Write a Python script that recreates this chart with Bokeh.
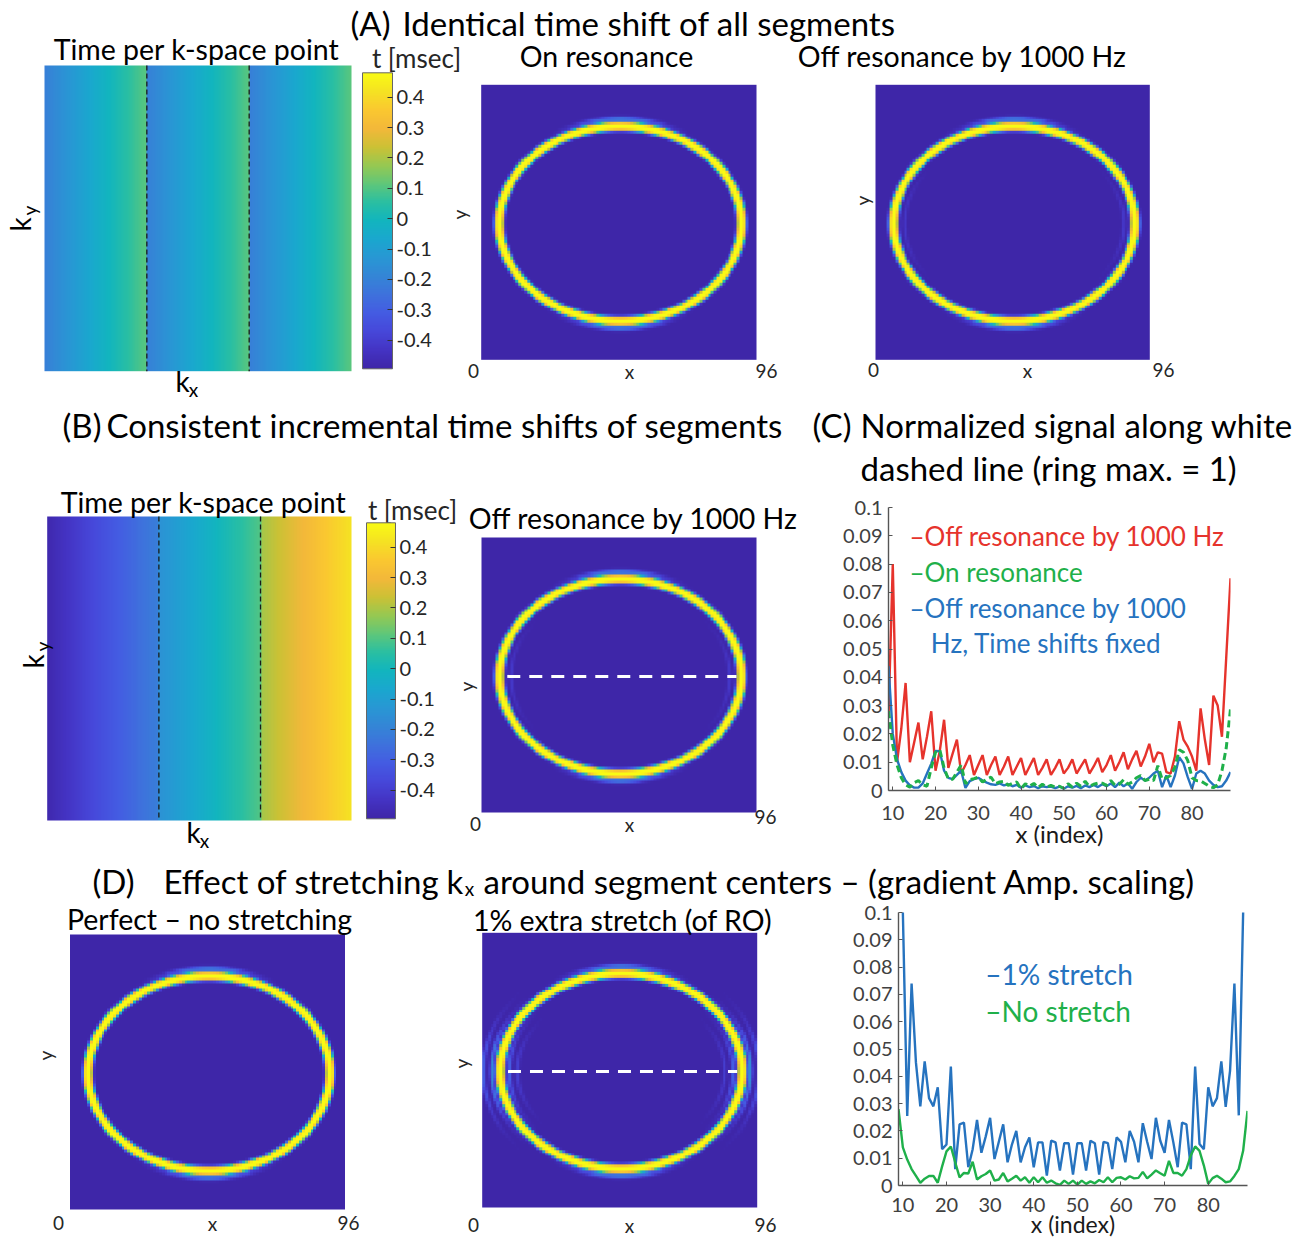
import numpy as np
from bokeh.plotting import figure
from bokeh.models import Range1d, LinearColorMapper, ColorBar, FixedTicker, Label
from bokeh.layouts import column, row
from bokeh.core.properties import value
from bokeh.embed import file_html
from bokeh.resources import INLINE

FONT = "Lato"
RED = "#e6332c"
GREEN = "#1fb04a"
BLUE = "#2673bf"
AXIS_GRAY = "#555555"
TICK_TEXT = "#404040"

# ---------------- line-profile data (panels C and D) ----------------
x_index = list(range(9, 90))

c_off_resonance = [
    0.026, 0.080, 0.010, 0.022, 0.038, 0.010, 0.017, 0.024, 0.011, 0.019,
    0.028, 0.007, 0.014, 0.025, 0.008, 0.013, 0.018, 0.006, 0.009, 0.0125,
    0.0055, 0.009, 0.0125, 0.0055, 0.009, 0.012, 0.0055, 0.0085, 0.012, 0.0055,
    0.0085, 0.0115, 0.0055, 0.0085, 0.0115, 0.0055, 0.008, 0.011, 0.0055, 0.008,
    0.011, 0.006, 0.008, 0.011, 0.006, 0.0085, 0.011, 0.006, 0.0085, 0.0115,
    0.0065, 0.009, 0.0125, 0.007, 0.010, 0.0135, 0.0075, 0.011, 0.014, 0.0085,
    0.012, 0.0165, 0.010, 0.0135, 0.013, 0.0065, 0.006, 0.012, 0.0245, 0.018,
    0.0155, 0.012, 0.007, 0.029, 0.018, 0.009, 0.0335, 0.030, 0.019, 0.047,
    0.075]

c_on_resonance = [
    0.028, 0.016, 0.009, 0.0045, 0.002, 0.0012, 0.0028, 0.0035, 0.002, 0.0015,
    0.008, 0.0135, 0.0144, 0.008, 0.004, 0.004, 0.0065, 0.009, 0.0024, 0.0038,
    0.0042, 0.0047, 0.003, 0.004, 0.0047, 0.0024, 0.003, 0.0033, 0.0018, 0.0025,
    0.003, 0.0006, 0.0024, 0.0015, 0.0025, 0.001, 0.0022, 0.0012, 0.0018, 0.0012,
    0.0015, 0.0008, 0.0024, 0.0012, 0.0026, 0.0015, 0.0033, 0.0014, 0.0022, 0.0026,
    0.0026, 0.0018, 0.0035, 0.0018, 0.0022, 0.0038, 0.0022, 0.003, 0.0045, 0.0053,
    0.0035, 0.004, 0.0035, 0.0088, 0.004, 0.0045, 0.0053, 0.0082, 0.0144, 0.0135,
    0.0106, 0.0045, 0.0035, 0.0034, 0.0025, 0.0015, 0.001, 0.002, 0.007, 0.015,
    0.0288]

c_time_shifts_fixed = [
    0.044, 0.020, 0.011, 0.0065, 0.0035, 0.0018, 0.001, 0.001, 0.0025, 0.006,
    0.0095, 0.014, 0.0139, 0.007, 0.0045, 0.004, 0.0055, 0.007, 0.0009, 0.0033,
    0.004, 0.0045, 0.0035, 0.0028, 0.0022, 0.002, 0.0025, 0.0018, 0.0022, 0.0015,
    0.002, 0.001, 0.0018, 0.0012, 0.0016, 0.0008, 0.0015, 0.0012, 0.0014, 0.0008,
    0.0014, 0.0006, 0.0015, 0.001, 0.0016, 0.0008, 0.0018, 0.0012, 0.002, 0.0012,
    0.0022, 0.0015, 0.0025, 0.0012, 0.0028, 0.0015, 0.0025, 0.0006, 0.003, 0.0045,
    0.0035, 0.0045, 0.006, 0.007, 0.0012, 0.0053, 0.0012, 0.0053, 0.0118, 0.0096,
    0.0047, 0.0006, 0.006, 0.007, 0.006, 0.0035, 0.002, 0.0012, 0.0015, 0.0035,
    0.0065]

d_stretch_1pct = [
    0.25, 0.100, 0.0255, 0.074, 0.045, 0.029, 0.0455, 0.032, 0.029, 0.036,
    0.0133, 0.015, 0.0436, 0.006, 0.0224, 0.023, 0.0067, 0.0133, 0.024, 0.012,
    0.018, 0.0248, 0.0097, 0.016, 0.0224, 0.0085, 0.015, 0.020, 0.0085, 0.014,
    0.0176, 0.0067, 0.0158, 0.0158, 0.0036, 0.0164, 0.0158, 0.0055, 0.0155, 0.0155,
    0.004, 0.0155, 0.0155, 0.0055, 0.0164, 0.0155, 0.004, 0.016, 0.0155, 0.006,
    0.0176, 0.016, 0.0085, 0.020, 0.016, 0.0085, 0.0228, 0.016, 0.0097, 0.0248,
    0.0164, 0.012, 0.024, 0.0158, 0.0067, 0.023, 0.0224, 0.006, 0.0436, 0.0152,
    0.0133, 0.036, 0.029, 0.032, 0.0455, 0.0288, 0.042, 0.074, 0.0257, 0.100,
    0.25]

d_no_stretch = [
    0.028, 0.014, 0.0095, 0.006, 0.0035, 0.001, 0.0025, 0.0035, 0.0035, 0.001,
    0.007, 0.0125, 0.0143, 0.0085, 0.003, 0.0046, 0.0044, 0.0087, 0.0022, 0.0034,
    0.0042, 0.0055, 0.0018, 0.0022, 0.0046, 0.0015, 0.0025, 0.0036, 0.0018, 0.003,
    0.001, 0.003, 0.0012, 0.003, 0.001, 0.0018, 0.0008, 0.0002, 0.0018, 0.0006,
    0.0018, 0.0003, 0.0018, 0.0006, 0.0015, 0.0008, 0.002, 0.0012, 0.003, 0.0012,
    0.0028, 0.003, 0.0022, 0.0034, 0.0026, 0.0028, 0.005, 0.0026, 0.004, 0.0055,
    0.0045, 0.0036, 0.009, 0.0046, 0.0046, 0.0036, 0.006, 0.011, 0.0143, 0.0127,
    0.0073, 0.0006, 0.0027, 0.0036, 0.0025, 0.0012, 0.0015, 0.0035, 0.006, 0.0127,
    0.0273]

c_legend_labels = ["\u2013Off resonance by 1000 Hz", "\u2013On resonance",
                   "\u2013Off resonance by 1000", "Hz, Time shifts fixed"]
d_legend_labels = ["\u20131% stretch", "\u2013No stretch"]

y_ticks = [0.0, 0.01, 0.02, 0.03, 0.04, 0.05, 0.06, 0.07, 0.08, 0.09, 0.1]
y_tick_labels = ["0", "0.01", "0.02", "0.03", "0.04", "0.05", "0.06", "0.07", "0.08", "0.09", "0.1"]
x_ticks = [10, 20, 30, 40, 50, 60, 70, 80]

# ---------------- time-per-k-space-point maps (panels A, B) ----------------
cbar_ticks = [-0.4, -0.3, -0.2, -0.1, 0.0, 0.1, 0.2, 0.3, 0.4]
cbar_labels = ["-0.4", "-0.3", "-0.2", "-0.1", "0", "0.1", "0.2", "0.3", "0.4"]
t_low, t_high = -0.494, 0.48

segA_edges = [0.0, 1 / 3, 2 / 3, 1.0]
segA_t_start = [-0.21, -0.21, -0.21]
segA_t_end = [0.11, 0.11, 0.11]
segB_edges = [0.0, 0.367, 0.701, 1.0]
segB_t_start = [-0.48, -0.15, 0.19]
segB_t_end = [-0.21, 0.10, 0.42]

# ---------------- simulated ring phantom (96 x 96) ----------------
ring_n = 96
ring_center = (48.5, 48.5)
ring_radii = (42.2, 34.0)
ring_halfwidth = 1.6
ghosts_off_res = [(-1.3, 0.08)]
ghosts_stretch = [(1.0, 0.34), (2.0, 0.2), (-1.0, 0.2), (-2.0, 0.1)]

# parula-like colormap anchors
parula_pos = [0.0, 0.0625, 0.125, 0.1875, 0.25, 0.3125, 0.375, 0.4375, 0.5, 0.5625,
              0.625, 0.6875, 0.75, 0.8125, 0.875, 0.9375, 1.0]
parula_rgb = [(62, 38, 168), (68, 52, 196), (70, 72, 218), (68, 92, 226), (62, 114, 220),
              (52, 134, 214), (40, 152, 212), (26, 168, 206), (18, 181, 190), (42, 191, 162),
              (95, 199, 122), (150, 200, 82), (204, 193, 53), (243, 184, 58), (250, 200, 48),
              (245, 226, 35), (249, 251, 20)]

_pos = np.array(parula_pos)
_rgb = np.array(parula_rgb, dtype=float)
_tt = np.linspace(0, 1, 256)
_cols = np.stack([np.interp(_tt, _pos, _rgb[:, i]) for i in range(3)], axis=1)
PARULA = ["#%02x%02x%02x" % tuple(int(round(c)) for c in rr) for rr in _cols]

t_mapper = LinearColorMapper(palette=PARULA, low=t_low, high=t_high)
ring_mapper = LinearColorMapper(palette=PARULA, low=0.0, high=1.0)


def heat_map(edges, t0, t1, ncols=306):
    f = (np.arange(ncols) + 0.5) / ncols
    vals = np.zeros(ncols)
    for s in range(len(t0)):
        m = (f >= edges[s]) & (f < edges[s + 1])
        vals[m] = t0[s] + (f[m] - edges[s]) / (edges[s + 1] - edges[s]) * (t1[s] - t0[s])
    return np.tile(vals, (4, 1))


def ring_image(ghosts=(), ghost_step=3.0, fringe=0.3):
    n = ring_n
    cx, cy = ring_center
    rx, ry = ring_radii
    yy, xx = np.mgrid[0:n, 0:n] + 0.5
    dx, dy = xx - cx, yy - cy
    r = np.sqrt((dx / rx) ** 2 + (dy / ry) ** 2) + 1e-9
    g = np.sqrt((dx / rx ** 2) ** 2 + (dy / ry ** 2) ** 2) / r + 1e-9
    d = (r - 1.0) / g
    side = np.abs(dx / rx) / r
    topb = np.abs(dy / ry) / r
    img = np.exp(-(np.abs(d) / ring_halfwidth) ** 4)
    img = img + fringe * np.exp(-((d - 2.6) / 0.8) ** 2) * topb ** 20
    for k, a in ghosts:
        img = img + a * np.exp(-((d - k * ghost_step) / 0.7) ** 2) * side ** 12
    return np.clip(img, 0, 1)


def canvas(w, h, left, top):
    p = figure(width=w, height=h, x_range=Range1d(left, left + w), y_range=Range1d(0, h),
               output_backend="svg", toolbar_location=None, min_border=0,
               x_axis_type=None, y_axis_type=None, outline_line_color=None)
    p.background_fill_color = "white"
    p.border_fill_color = "white"
    try:
        p.frame_align = False
    except Exception:
        pass
    p.tags = [top]
    return p


def _sy(p, y):
    # page y (from the top) -> canvas data y
    return p.height - (y - p.tags[0])


def put_text(p, items, size, color="#000000", align="center", angle=0.0):
    p.text(x=[i[0] for i in items], y=[_sy(p, i[1]) for i in items],
           text=[i[2] for i in items], text_font=value(FONT), text_font_size=size,
           text_color=color, text_align=align, text_baseline="middle", angle=angle)


def put_image(p, arr, box, mapper):
    x0, y0, x1, y1 = box
    p.image(image=[np.flipud(arr)], x=x0, y=_sy(p, y1), dw=x1 - x0, dh=y1 - y0,
            color_mapper=mapper)


def seg_lines(p, box, edges):
    x0, y0, x1, y1 = box
    xs = [[x0 + e * (x1 - x0)] * 2 for e in edges[1:-1]]
    ys = [[_sy(p, y0), _sy(p, y1)] for _ in edges[1:-1]]
    p.multi_line(xs, ys, line_color="#1a1a1a", line_width=1.3, line_dash="5 3")


def profile_line(p, box):
    x0, y0, x1, y1 = box
    sx = [x0 + x_index[0] / ring_n * (x1 - x0), x0 + x_index[-1] / ring_n * (x1 - x0)]
    sy = y0 + ring_center[1] / ring_n * (y1 - y0)
    p.line(sx, [_sy(p, sy)] * 2, line_color="white", line_width=3, line_dash="13 9")


def add_cbar(p, box):
    x0, y0, x1, y1 = box
    left = p.x_range.start
    cb = ColorBar(color_mapper=t_mapper, location=(x0 - left, _sy(p, y1)),
                  width=int(round(x1 - x0)), height=int(round(y1 - y0)),
                  padding=0, margin=0, ticker=FixedTicker(ticks=cbar_ticks),
                  major_label_overrides=dict(zip(cbar_ticks, cbar_labels)),
                  label_standoff=4, major_label_text_font=FONT,
                  major_label_text_font_size="20px", major_label_text_color="#262626",
                  major_tick_line_color="#333333", major_tick_in=5, major_tick_out=0,
                  minor_tick_line_color=None, bar_line_color="#666666",
                  background_fill_color=None, border_line_color=None)
    p.add_layout(cb)


ring_plain = ring_image()
ring_offres = ring_image(ghosts=ghosts_off_res)
ring_stretch = ring_image(ghosts=ghosts_stretch)

TITLE_SIZE = "33px"
PANEL_SIZE = "28.5px"
LABEL_SIZE = "19px"

# ================= strip A =================
pA = canvas(1304, 403, 0, 0)
boxA1 = (44, 65, 351, 370.7)
put_image(pA, heat_map(segA_edges, segA_t_start, segA_t_end), boxA1, t_mapper)
seg_lines(pA, boxA1, segA_edges)
add_cbar(pA, (362, 72.7, 391.7, 368.3))
boxA2 = (480.7, 84.3, 756, 359.3)
boxA3 = (875, 84.3, 1149.3, 359.3)
put_image(pA, ring_plain, boxA2, ring_mapper)
put_image(pA, ring_offres, boxA3, ring_mapper)
put_text(pA, [(350, 22, "(A)"), (402, 22, "Identical time shift of all segments")], TITLE_SIZE, align="left")
put_text(pA, [(196, 48, "Time per k-space point"), (606, 55, "On resonance"),
              (962, 55, "Off resonance by 1000 Hz")], PANEL_SIZE)
put_text(pA, [(416, 57, "t [msec]")], "26px", color="#262626")
put_text(pA, [(182, 380, "k")], "28px")
put_text(pA, [(193, 389, "x")], "19px")
put_text(pA, [(19, 224, "k")], "28px", angle=np.pi / 2)
put_text(pA, [(29, 210, "y")], "19px", angle=np.pi / 2)
put_text(pA, [(473, 370, "0"), (629, 371, "x"), (766, 370, "96"),
              (873, 369, "0"), (1027, 370, "x"), (1163, 369, "96")], LABEL_SIZE, color="#262626")
put_text(pA, [(459, 214, "y"), (862, 200, "y")], LABEL_SIZE, color="#262626", angle=np.pi / 2)

# ================= left column: title B + panel B =================
SPLIT = 805
pT1L = canvas(SPLIT, 80, 0, 403)
put_text(pT1L, [(62, 424, "(B)"), (106, 424, "Consistent incremental time shifts of segments")],
         TITLE_SIZE, align="left")

pB = canvas(SPLIT, 377, 0, 483)
boxB1 = (46.7, 516, 351, 820)
put_image(pB, heat_map(segB_edges, segB_t_start, segB_t_end), boxB1, t_mapper)
seg_lines(pB, boxB1, segB_edges)
add_cbar(pB, (366, 522.3, 395, 818.3))
boxB2 = (481, 537, 756, 812)
put_image(pB, ring_offres, boxB2, ring_mapper)
profile_line(pB, boxB2)
put_text(pB, [(203, 501, "Time per k-space point"), (633, 517, "Off resonance by 1000 Hz")], PANEL_SIZE)
put_text(pB, [(412, 509, "t [msec]")], "26px", color="#262626")
put_text(pB, [(193, 831, "k")], "28px")
put_text(pB, [(204, 840, "x")], "19px")
put_text(pB, [(32, 661, "k")], "28px", angle=np.pi / 2)
put_text(pB, [(42, 646, "y")], "19px", angle=np.pi / 2)
put_text(pB, [(475, 823, "0"), (629, 824, "x"), (765, 816, "96")], LABEL_SIZE, color="#262626")
put_text(pB, [(466, 686, "y")], LABEL_SIZE, color="#262626", angle=np.pi / 2)

# ================= right column: title C + panel C =================
pT1R = canvas(1304 - SPLIT, 89, SPLIT, 403)
put_text(pT1R, [(812, 424, "(C)"), (860, 424, "Normalized signal along white"),
                (860, 467, "dashed line (ring max. = 1)")], TITLE_SIZE, align="left")


def profile_fig(w, h, bl, br, bt, bb, tick_standoff, label_standoff, label_size):
    p = figure(width=w, height=h, x_range=Range1d(9, 89), y_range=Range1d(0, 0.1),
               output_backend="svg", toolbar_location=None,
               min_border_left=bl, min_border_right=br, min_border_top=bt, min_border_bottom=bb)
    try:
        p.frame_align = False
    except Exception:
        pass
    p.xgrid.visible = False
    p.ygrid.visible = False
    p.outline_line_color = None
    p.background_fill_color = "white"
    p.border_fill_color = "white"
    p.xaxis.ticker = FixedTicker(ticks=x_ticks)
    p.yaxis.ticker = FixedTicker(ticks=y_ticks)
    p.yaxis.major_label_overrides = dict(zip(y_ticks, y_tick_labels))
    for ax in (p.xaxis[0], p.yaxis[0]):
        ax.axis_line_color = AXIS_GRAY
        ax.axis_line_width = 1.4
        ax.major_tick_line_color = AXIS_GRAY
        ax.major_tick_in = 4
        ax.major_tick_out = 0
        ax.minor_tick_line_color = None
        ax.major_label_text_font = FONT
        ax.major_label_text_font_size = "20px"
        ax.major_label_text_color = TICK_TEXT
    p.yaxis.major_label_standoff = 6
    p.xaxis.major_label_standoff = tick_standoff
    p.xaxis.axis_label = "x (index)"
    p.xaxis.axis_label_text_font = FONT
    p.xaxis.axis_label_text_font_size = label_size
    p.xaxis.axis_label_text_font_style = "normal"
    p.xaxis.axis_label_text_color = "#1a1a1a"
    p.xaxis.axis_label_standoff = label_standoff
    return p


def legend_labels(p, xs, ys, labels, colors, size):
    for x, y, t, c in zip(xs, ys, labels, colors):
        p.add_layout(Label(x=x, y=y, text=t, text_color=c, text_font=FONT,
                           text_font_size=size, text_align="left", text_baseline="middle"))


pC = profile_fig(1304 - SPLIT, 368, 83, 74, 15, 70, 15, -4, "24px")
pC.line(x_index, c_off_resonance, line_color=RED, line_width=2.4)
pC.line(x_index, c_time_shifts_fixed, line_color=BLUE, line_width=2.4)
pC.line(x_index, c_on_resonance, line_color=GREEN, line_width=3, line_dash="7 4")
legend_labels(pC, [13.9, 13.9, 13.9, 18.9], [0.0900, 0.0773, 0.0646, 0.0522], c_legend_labels,
              [RED, GREEN, BLUE, BLUE], "26px")

# ================= strip title D =================
pT2 = canvas(1304, 40, 0, 860)
put_text(pT2, [(92, 880, "(D)"), (163, 880, "Effect of stretching"), (446, 880, "k"),
               (483, 880, "around segment centers \u2013 (gradient Amp. scaling)")], TITLE_SIZE, align="left")
put_text(pT2, [(469, 888, "x")], "19px")

# ================= strip D (canvas) =================
pD = canvas(830, 340, 0, 900)
boxD1 = (69.5, 934, 344.5, 1209)
boxD2 = (481.7, 932.3, 756.7, 1207)
put_image(pD, ring_plain, boxD1, ring_mapper)
put_image(pD, ring_stretch, boxD2, ring_mapper)
profile_line(pD, boxD2)
put_text(pD, [(209, 918, "Perfect \u2013 no stretching"), (622, 919, "1% extra stretch (of RO)")], PANEL_SIZE)
put_text(pD, [(58, 1222, "0"), (212, 1223, "x"), (348, 1222, "96"),
              (473, 1224, "0"), (629, 1225, "x"), (765, 1224, "96")], LABEL_SIZE, color="#262626")
put_text(pD, [(45, 1055, "y"), (461, 1063, "y")], LABEL_SIZE, color="#262626", angle=np.pi / 2)

# ================= panel D3 =================
pE = profile_fig(474, 340, 68, 57, 12, 55, 12, -5, "23px")
pE.line(x_index, d_stretch_1pct, line_color=BLUE, line_width=2.4)
pE.line(x_index, d_no_stretch, line_color=GREEN, line_width=2.4)
legend_labels(pE, [28.9, 28.9], [0.0775, 0.064], d_legend_labels, [BLUE, GREEN], "28px")

layout = column(pA,
                row(column(pT1L, pB), column(pT1R, pC)),
                pT2,
                row(pD, pE))
open("out.html", "w").write(file_html(layout, INLINE, title="Segment time shifts"))
